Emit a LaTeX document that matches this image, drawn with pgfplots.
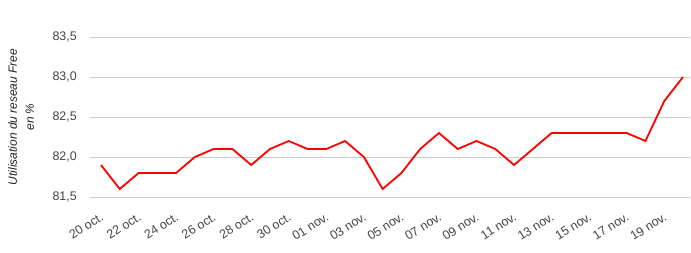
\documentclass[border=0pt]{standalone}
\usepackage{pgfplots}
\pgfplotsset{compat=1.18}
\usepackage{fontspec}
\setmainfont{Liberation Sans}
\definecolor{tickgray}{HTML}{444444}
\definecolor{gridgray}{HTML}{CCCCCC}
\definecolor{labgray}{HTML}{222222}
\begin{document}
\begin{tikzpicture}
\path[use as bounding box] (0,0) rectangle (691bp,253bp);
\begin{axis}[
  at={(90bp,56bp)}, anchor=south west,
  scale only axis, width=600bp, height=160bp,
  xmin=-0.585, xmax=31.37,
  ymin=81.5, ymax=83.5,
  ytick={81.5,82,82.5,83,83.5},
  xtick={0,2,...,30},
  xticklabels={20 oct.,22 oct.,24 oct.,26 oct.,28 oct.,30 oct.,01 nov.,03 nov.,05 nov.,07 nov.,09 nov.,11 nov.,13 nov.,15 nov.,17 nov.,19 nov.},
  axis line style={draw=none},
  major tick length=0pt,
  ymajorgrids, grid style={gridgray, line width=0.8bp},
  /pgf/number format/assume math mode=true,
  yticklabel={\pgfmathprintnumber[fixed,fixed zerofill,precision=1,use comma]{\tick}},
  yticklabel style={font=\fontsize{12.5}{15}\selectfont, text=tickgray, anchor=east, inner sep=0pt, xshift=-13bp},
  xticklabel style={font=\fontsize{12.5}{14}\selectfont, text=tickgray, rotate=32, anchor=north east, inner sep=0pt, yshift=-12bp, xshift=-9bp},
  ylabel={Utilisation du reseau Free\\en \%},
  ylabel style={font=\itshape\fontsize{12}{17}\selectfont, text=labgray, align=center, at={(axis description cs:-0.093,0.5)}, anchor=south, inner sep=0pt},
  clip=false,
]
\addplot[red, line width=1.8bp, mark=none] coordinates {
(0,81.9) (1,81.6) (2,81.8) (3,81.8) (4,81.8) (5,82.0) (6,82.1) (7,82.1)
(8,81.9) (9,82.1) (10,82.2) (11,82.1) (12,82.1) (13,82.2) (14,82.0) (15,81.6)
(16,81.8) (17,82.1) (18,82.3) (19,82.1) (20,82.2) (21,82.1) (22,81.9) (23,82.1)
(24,82.3) (25,82.3) (26,82.3) (27,82.3) (28,82.3) (29,82.2) (30,82.7) (31,83.0)
};
\end{axis}
\end{tikzpicture}
\end{document}
